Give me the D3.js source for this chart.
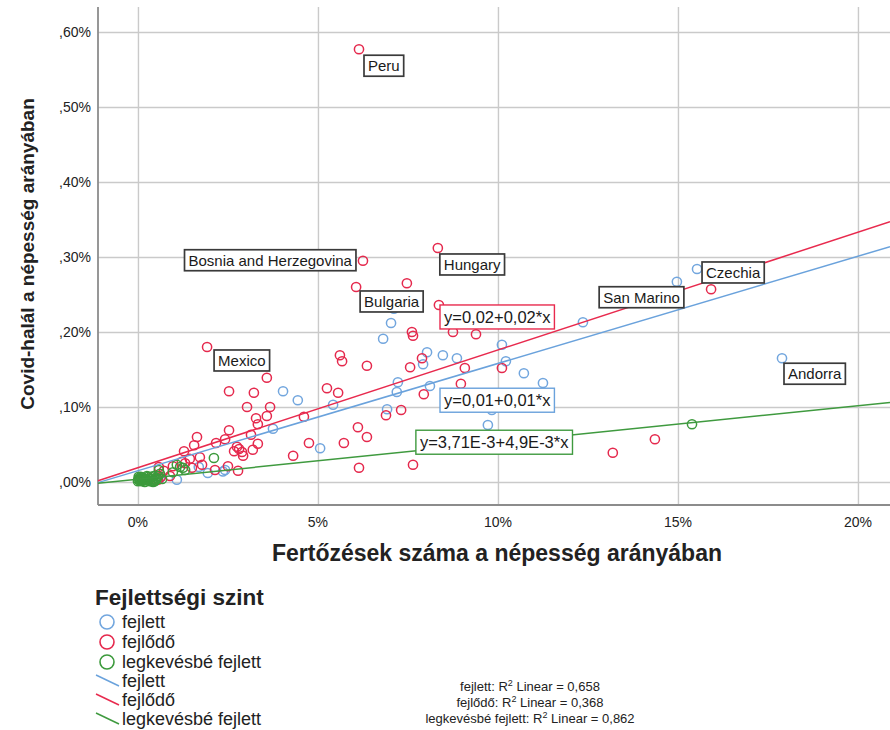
<!DOCTYPE html>
<html>
<head>
<meta charset="utf-8">
<script src="https://cdn.jsdelivr.net/npm/d3@7"></script>
<style>
	body { margin: 0; background: #fff; }
	svg { display: block; font-family: "Liberation Sans", Arial, sans-serif; }
</style>
</head>
<body>
<svg id="chart" width="890" height="730"></svg>
<script>
// values in percent of population
const groupNames = ['fejlett', 'fejlődő', 'legkevésbé fejlett'];

const fejlettPoints = [
	[7.03, 0.212], [7.11, 0.231], [6.81, 0.191], [8.03, 0.173], [8.47, 0.169], [8.86, 0.165],
	[7.92, 0.157], [10.11, 0.183], [10.22, 0.161], [10.72, 0.145], [11.25, 0.132], [12.36, 0.213],
	[14.97, 0.267], [15.53, 0.284], [17.89, 0.165], [7.22, 0.133], [7.19, 0.120], [8.11, 0.128],
	[4.03, 0.121], [4.44, 0.109], [5.42, 0.103], [6.92, 0.097], [9.83, 0.096], [9.72, 0.076],
	[3.75, 0.071], [5.06, 0.045], [1.69, 0.020], [1.94, 0.012], [2.42, 0.016], [1.08, 0.003],
	[0.61, 0.005], [2.36, 0.014]
];

const fejlodoPoints = [
	[6.14, 0.577], [6.25, 0.295], [8.33, 0.312], [6.06, 0.260], [7.47, 0.265], [8.36, 0.236],
	[7.61, 0.200], [7.64, 0.195], [8.75, 0.200], [9.39, 0.197], [1.92, 0.180], [5.61, 0.169],
	[5.67, 0.161], [6.36, 0.155], [7.89, 0.165], [7.56, 0.153], [9.08, 0.152], [10.11, 0.152],
	[8.97, 0.131], [3.58, 0.139], [2.53, 0.121], [3.22, 0.119], [5.25, 0.125], [5.56, 0.119],
	[7.94, 0.117], [3.03, 0.100], [3.67, 0.100], [3.58, 0.088], [3.28, 0.085], [3.33, 0.077],
	[4.61, 0.087], [6.89, 0.089], [7.31, 0.096], [2.53, 0.069], [3.14, 0.063], [6.11, 0.073],
	[6.36, 0.060], [4.75, 0.052], [5.72, 0.052], [1.64, 0.060], [1.56, 0.049], [1.28, 0.041],
	[2.17, 0.052], [2.42, 0.057], [2.75, 0.047], [2.81, 0.044], [2.89, 0.040], [2.67, 0.041],
	[3.19, 0.043], [3.33, 0.051], [2.92, 0.035], [4.31, 0.035], [1.72, 0.033], [1.44, 0.031],
	[1.22, 0.027], [2.50, 0.021], [1.50, 0.019], [2.14, 0.016], [2.78, 0.015], [0.58, 0.020],
	[0.72, 0.015], [0.97, 0.021], [1.31, 0.025], [0.56, 0.003], [6.14, 0.019], [7.64, 0.023],
	[13.19, 0.039], [14.36, 0.057], [15.92, 0.257], [0.64, 0.007], [1.78, 0.023], [0.33, 0.005],
	[0.19, 0.003], [0.89, 0.008]
];

const legkevesbbePoints = [
	[15.39, 0.077], [2.11, 0.032], [1.08, 0.023], [1.17, 0.020], [0.97, 0.013], [1.25, 0.019],
	[1.31, 0.016], [0.58, 0.016], [0.61, 0.011],
	[0.00, 0.001], [0.06, 0.004], [0.11, 0.001], [0.17, 0.005], [0.22, 0.003], [0.28, 0.007],
	[0.33, 0.001], [0.39, 0.004], [0.44, 0.008], [0.50, 0.003], [0.08, 0.007], [0.19, 0.000],
	[0.31, 0.004], [0.42, 0.000], [0.53, 0.005], [0.14, 0.003], [0.25, 0.008], [0.36, 0.007],
	[0.03, 0.005], [0.47, 0.001], [0.56, 0.008], [0.67, 0.004], [0.01, 0.003], [0.02, 0.007],
	[0.12, 0.006], [0.26, 0.002], [0.40, 0.002], [0.05, 0.002]
];

// linear fits, same order as groupNames
const fitIntercepts = [0.015, 0.019, 0.00371];
const fitSlopes = [0.0143, 0.0157, 0.0049];
const fitLabels = ['y=0,01+0,01*x', 'y=0,02+0,02*x', 'y=3,71E-3+4,9E-3*x'];
const r2Values = ['0,658', '0,368', '0,862'];

const labelNames = ['Peru', 'Bosnia and Herzegovina', 'Hungary', 'Bulgaria', 'Mexico', 'San Marino', 'Czechia', 'Andorra'];
const labelPoints = [[6.14, 0.577], [6.25, 0.295], [8.33, 0.312], [6.06, 0.260], [1.92, 0.180], [14.97, 0.267], [15.53, 0.284], [17.89, 0.165]];

const xTickValues = [0, 5, 10, 15, 20];
const xTickLabels = ['0%', '5%', '10%', '15%', '20%'];
const yTickValues = [0, 0.1, 0.2, 0.3, 0.4, 0.5, 0.6];
const yTickLabels = [',00%', ',10%', ',20%', ',30%', ',40%', ',50%', ',60%'];

const colors = ['#72a6de', '#e5294d', '#3c9a3c'];
const lineColors = ['#6aa2dc', '#e82a4e', '#3f9a3f'];

const svg = d3.select('#chart');
const plotLeft = 98, plotRight = 890, plotTop = 7, plotBottom = 505;

const x = d3.scaleLinear().domain([-1.11, 20.89]).range([plotLeft, plotRight]);
const y = d3.scaleLinear().domain([-0.0307, 0.6333]).range([plotBottom, plotTop]);

// grid
svg.append('g')
	.attr('transform', `translate(0,${plotBottom})`)
	.call(d3.axisBottom(x).tickValues(xTickValues).tickSize(-(plotBottom - plotTop)).tickFormat(''))
	.call(g => g.select('.domain').remove())
	.selectAll('line').attr('stroke', '#cacaca').attr('stroke-width', 1.4);
svg.append('g')
	.attr('transform', `translate(${plotLeft},0)`)
	.call(d3.axisLeft(y).tickValues(yTickValues).tickSize(-(plotRight - plotLeft)).tickFormat(''))
	.call(g => g.select('.domain').remove())
	.selectAll('line').attr('stroke', '#cacaca').attr('stroke-width', 1.4);

// axis lines
svg.append('line').attr('x1', plotLeft).attr('x2', plotLeft).attr('y1', plotTop).attr('y2', plotBottom)
	.attr('stroke', '#8c8c8c').attr('stroke-width', 1.8);
svg.append('line').attr('x1', plotLeft).attr('x2', plotRight).attr('y1', plotBottom).attr('y2', plotBottom)
	.attr('stroke', '#8c8c8c').attr('stroke-width', 1.8);

// tick labels
svg.append('g').selectAll('text').data(xTickValues).enter()
	.append('text')
	.attr('x', d => x(d))
	.attr('y', plotBottom + 22)
	.attr('text-anchor', 'middle')
	.attr('font-size', 14)
	.attr('fill', '#222')
	.text((d, i) => xTickLabels[i]);
svg.append('g').selectAll('text').data(yTickValues).enter()
	.append('text')
	.attr('x', plotLeft - 7)
	.attr('y', d => y(d) + 5)
	.attr('text-anchor', 'end')
	.attr('font-size', 14)
	.attr('fill', '#222')
	.text((d, i) => yTickLabels[i]);

// axis titles
svg.append('text')
	.attr('x', 497).attr('y', 561)
	.attr('text-anchor', 'middle')
	.attr('font-size', 23).attr('font-weight', 'bold').attr('fill', '#222')
	.text('Fertőzések száma a népesség arányában');
svg.append('text')
	.attr('transform', 'translate(34,254) rotate(-90)')
	.attr('text-anchor', 'middle')
	.attr('font-size', 19).attr('font-weight', 'bold').attr('fill', '#222')
	.text('Covid-halál a népesség arányában');

// points
const plot = svg.append('g');
[fejlettPoints, fejlodoPoints, legkevesbbePoints].forEach((pts, gi) => {
	plot.append('g').selectAll('circle').data(pts).enter()
		.append('circle')
		.attr('cx', d => x(d[0]))
		.attr('cy', d => y(d[1]))
		.attr('r', 4.6)
		.attr('fill', 'none')
		.attr('stroke', colors[gi])
		.attr('stroke-width', 1.5);
});

// fit lines across the whole x range
const fitLine = d3.line().x(d => x(d[0])).y(d => y(d[1]));
fitIntercepts.forEach((b, gi) => {
	let ends = x.domain().map(v => [v, b + fitSlopes[gi] * v]);
	svg.append('path')
		.attr('d', fitLine(ends))
		.attr('fill', 'none')
		.attr('stroke', lineColors[gi])
		.attr('stroke-width', 1.5);
});

function boxLabel(parent, text, px, py, anchor, fontSize, h, stroke, strokeWidth) {
	let g = parent.append('g');
	let rect = g.append('rect');
	let t = g.append('text')
		.attr('font-size', fontSize)
		.attr('fill', '#1a1a1a')
		.text(text);
	let w = t.node().getComputedTextLength() + 8;
	let x0 = anchor == 'end' ? px - w : px;
	t.attr('x', x0 + 4).attr('y', py + h / 2 + fontSize * 0.36);
	rect.attr('x', x0).attr('y', py).attr('width', w).attr('height', h)
		.attr('fill', '#fff')
		.attr('stroke', stroke)
		.attr('stroke-width', strokeWidth);
	return g;
}

// country labels: box corner offset from its point
const labelLayout = [
	{dx: 5, dy: 6, anchor: 'start'},
	{dx: -7, dy: -11, anchor: 'end'},
	{dx: 2, dy: 6, anchor: 'start'},
	{dx: 4, dy: 4, anchor: 'start'},
	{dx: 7, dy: 3, anchor: 'start'},
	{dx: 7, dy: 5, anchor: 'end'},
	{dx: 5, dy: -7, anchor: 'start'},
	{dx: 2, dy: 5, anchor: 'start'}
];
const labels = svg.append('g');
labelNames.forEach((name, i) => {
	let p = labelPoints[i], l = labelLayout[i];
	boxLabel(labels, name, x(p[0]) + l.dx, y(p[1]) + l.dy, l.anchor, 15, 21, '#3a3a3a', 1.7);
});

// equation boxes, top-left corner in data units
const eqAnchors = [[8.39, 0.125], [8.39, 0.236], [7.72, 0.069]];
fitLabels.forEach((txt, gi) => {
	boxLabel(labels, txt, x(eqAnchors[gi][0]), y(eqAnchors[gi][1]), 'start', 16.5, 24, lineColors[gi], 1.4);
});

// legend
const legend = svg.append('g');
legend.append('text')
	.attr('x', 95).attr('y', 605)
	.attr('font-size', 22.5).attr('font-weight', 'bold').attr('fill', '#222')
	.text('Fejlettségi szint');
groupNames.forEach((name, i) => {
	let cy = 622 + i * 20;
	legend.append('circle')
		.attr('cx', 107).attr('cy', cy).attr('r', 7)
		.attr('fill', 'none').attr('stroke', colors[i]).attr('stroke-width', 1.6);
	legend.append('text')
		.attr('x', 122).attr('y', cy + 6)
		.attr('font-size', 18).attr('fill', '#222')
		.text(name);
});
groupNames.forEach((name, i) => {
	let ly = 681 + i * 19;
	legend.append('line')
		.attr('x1', 96).attr('y1', ly - 6).attr('x2', 119).attr('y2', ly + 5)
		.attr('stroke', lineColors[i]).attr('stroke-width', 1.5);
	legend.append('text')
		.attr('x', 122).attr('y', ly + 6)
		.attr('font-size', 18).attr('fill', '#222')
		.text(name);
});

// R squared notes
groupNames.forEach((name, i) => {
	let t = legend.append('text')
		.attr('x', 530).attr('y', 691 + i * 16)
		.attr('text-anchor', 'middle')
		.attr('font-size', 13).attr('fill', '#222');
	t.append('tspan').text(name + ': R');
	t.append('tspan').attr('dy', -5).attr('font-size', 9).text('2');
	t.append('tspan').attr('dy', 5).text(' Linear = ' + r2Values[i]);
});
</script>
</body>
</html>
